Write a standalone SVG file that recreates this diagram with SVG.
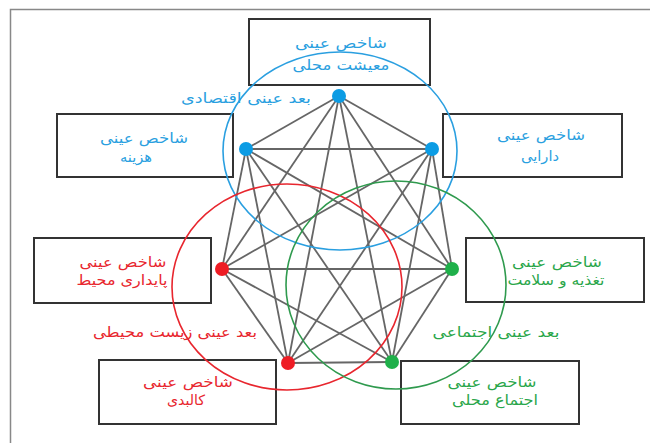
<svg xmlns="http://www.w3.org/2000/svg" width="650" height="443" viewBox="0 0 650 443">
<style>
.box{fill:none;stroke:#333;stroke-width:2}
.edge{stroke:#666;stroke-width:1.8}
.ring{fill:none;stroke-width:1.6}
.t{font-family:"DejaVu Sans","Noto Sans",sans-serif;font-size:14px;text-anchor:middle}
.b{fill:#2a9fe0}.r{fill:#e8262e}.g{fill:#2aa64a}
</style>
<rect x="0" y="0" width="650" height="443" fill="#fff"/>
<rect x="10.5" y="9.5" width="646" height="440" fill="none" stroke="#888" stroke-width="1.5"/>
<g id="box-top" class="box"><rect x="249" y="19" width="181" height="66"/></g>
<g id="box-left" class="box"><rect x="57" y="114" width="176" height="63"/></g>
<g id="box-right" class="box"><rect x="443" y="114" width="179" height="63"/></g>
<g id="box-redleft" class="box"><rect x="34" y="238" width="177" height="65"/></g>
<g id="box-greenright" class="box"><rect x="466" y="238" width="178" height="64"/></g>
<g id="box-bottomleft" class="box"><rect x="99" y="360" width="177" height="64"/></g>
<g id="box-bottomright" class="box"><rect x="401" y="361" width="178" height="63"/></g>
<g id="connectors" class="edge">
<line x1="339" y1="96" x2="246" y2="149"/><line x1="339" y1="96" x2="432" y2="149"/>
<line x1="339" y1="96" x2="222" y2="269"/><line x1="339" y1="96" x2="452" y2="269"/>
<line x1="339" y1="96" x2="288" y2="363"/><line x1="339" y1="96" x2="392" y2="362"/>
<line x1="246" y1="149" x2="432" y2="149"/><line x1="246" y1="149" x2="222" y2="269"/>
<line x1="246" y1="149" x2="452" y2="269"/><line x1="246" y1="149" x2="288" y2="363"/>
<line x1="246" y1="149" x2="392" y2="362"/>
<line x1="432" y1="149" x2="222" y2="269"/><line x1="432" y1="149" x2="452" y2="269"/>
<line x1="432" y1="149" x2="288" y2="363"/><line x1="432" y1="149" x2="392" y2="362"/>
<line x1="222" y1="269" x2="452" y2="269"/><line x1="222" y1="269" x2="288" y2="363"/>
<line x1="222" y1="269" x2="392" y2="362"/>
<line x1="452" y1="269" x2="288" y2="363"/><line x1="452" y1="269" x2="392" y2="362"/>
<line x1="288" y1="363" x2="392" y2="362"/>
</g>
<g id="dimension-rings">
<ellipse class="ring" cx="340" cy="151" rx="117" ry="99" stroke="#2a9fe0"/>
<ellipse class="ring" cx="287" cy="287" rx="115" ry="103" stroke="#e8262e"/>
<ellipse class="ring" cx="396" cy="285" rx="110" ry="104" stroke="#2f9a4e"/>
</g>
<g id="nodes">
<circle cx="339" cy="96" r="7" fill="#0c9ce4"/>
<circle cx="246" cy="149" r="7" fill="#0c9ce4"/>
<circle cx="432" cy="149" r="7" fill="#0c9ce4"/>
<circle cx="222" cy="269" r="7" fill="#ee1c24"/>
<circle cx="452" cy="269" r="7" fill="#1fb04a"/>
<circle cx="288" cy="363" r="7" fill="#ee1c24"/>
<circle cx="392" cy="362" r="7" fill="#1fb04a"/>
</g>
<g id="labels" class="t">
<text class="b" x="341" y="48" textLength="92" lengthAdjust="spacingAndGlyphs">شاخص عینی</text>
<text class="b" x="341" y="70" textLength="97" lengthAdjust="spacingAndGlyphs">معیشت محلی</text>
<text class="b" x="144" y="143" textLength="88" lengthAdjust="spacingAndGlyphs">شاخص عینی</text>
<text class="b" x="136" y="162" textLength="32" lengthAdjust="spacingAndGlyphs">هزینه</text>
<text class="b" x="541" y="140" textLength="88" lengthAdjust="spacingAndGlyphs">شاخص عینی</text>
<text class="b" x="540" y="161" textLength="38" lengthAdjust="spacingAndGlyphs">دارایی</text>
<text class="r" x="123" y="267" textLength="87" lengthAdjust="spacingAndGlyphs">شاخص عینی</text>
<text class="r" x="122" y="285" textLength="91" lengthAdjust="spacingAndGlyphs">پایداری محیط</text>
<text class="g" x="557" y="267" textLength="90" lengthAdjust="spacingAndGlyphs">شاخص عینی</text>
<text class="g" x="556" y="285" textLength="97" lengthAdjust="spacingAndGlyphs">تغذیه و سلامت</text>
<text class="r" x="188" y="387" textLength="90" lengthAdjust="spacingAndGlyphs">شاخص عینی</text>
<text class="r" x="186" y="405" textLength="38" lengthAdjust="spacingAndGlyphs">کالبدی</text>
<text class="g" x="492" y="387" textLength="89" lengthAdjust="spacingAndGlyphs">شاخص عینی</text>
<text class="g" x="495" y="405" textLength="86" lengthAdjust="spacingAndGlyphs">اجتماع محلی</text>
<text class="b" x="246" y="103" textLength="130" lengthAdjust="spacingAndGlyphs">بعد عینی اقتصادی</text>
<text class="r" x="175" y="337" textLength="164" lengthAdjust="spacingAndGlyphs">بعد عینی زیست محیطی</text>
<text class="g" x="496" y="337" textLength="127" lengthAdjust="spacingAndGlyphs">بعد عینی اجتماعی</text>
</g>
</svg>
